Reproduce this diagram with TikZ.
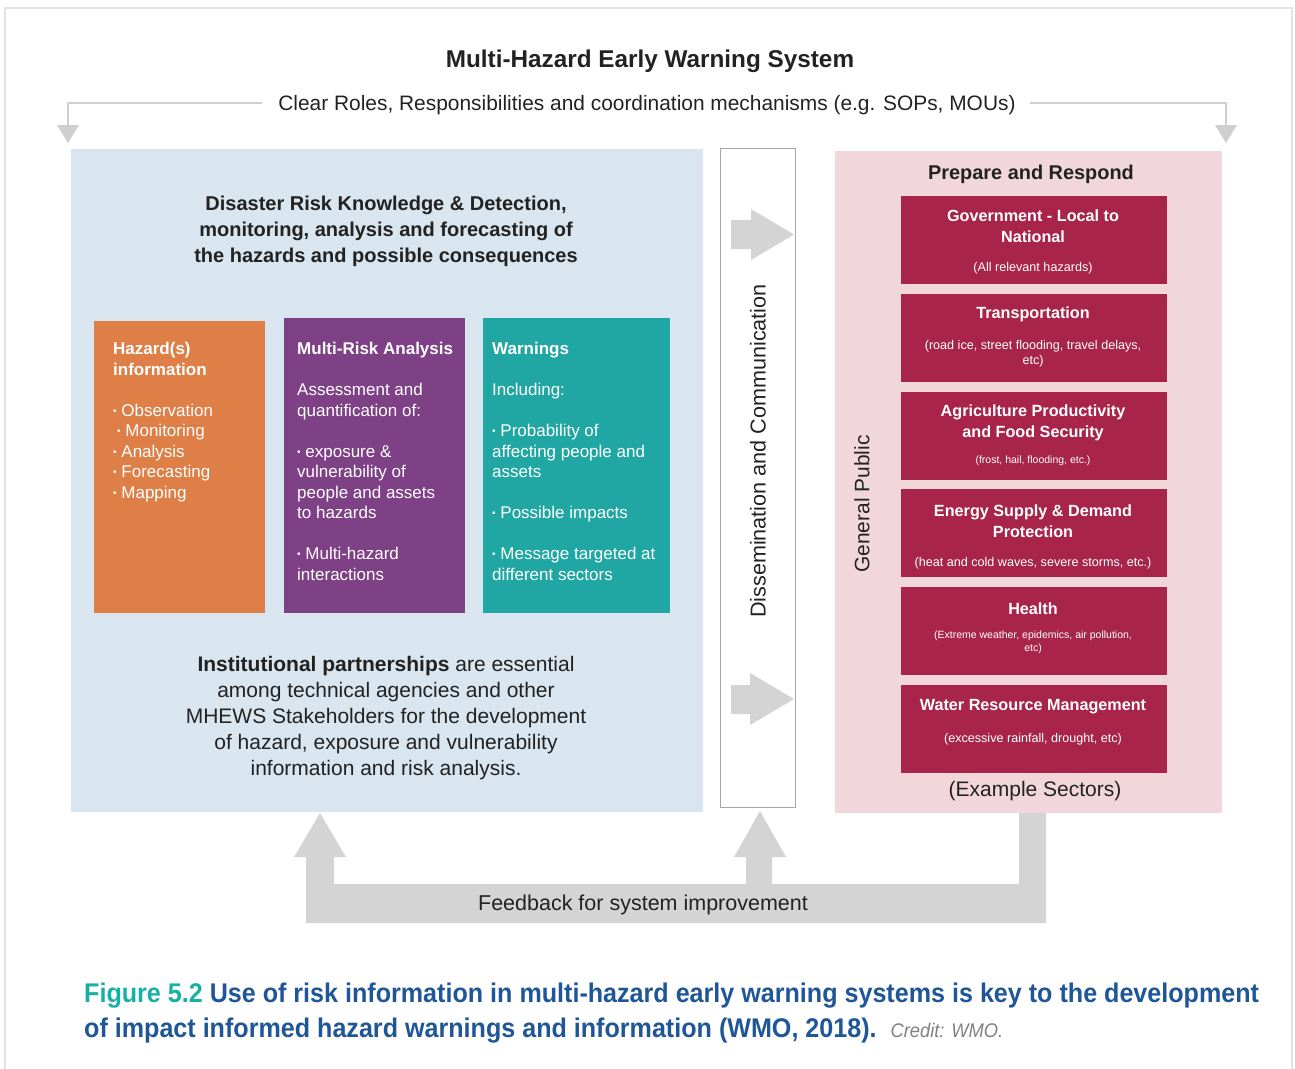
\documentclass[tikz,border=0pt]{standalone}
\usepackage{fontspec}
\setmainfont{Liberation Sans}
\newfontfamily\capfont[FakeStretch=0.93]{Liberation Sans}
\definecolor{frame}{HTML}{E3E3E3}
\definecolor{bluepanel}{HTML}{D9E5EF}
\definecolor{orangebox}{HTML}{DD7F47}
\definecolor{purplebox}{HTML}{7F4186}
\definecolor{tealbox}{HTML}{20A7A3}
\definecolor{pinkpanel}{HTML}{F1D6DB}
\definecolor{redbox}{HTML}{A8244A}
\definecolor{arrowgray}{HTML}{D4D4D4}
\definecolor{linegray}{HTML}{CFCFCF}
\definecolor{txt}{HTML}{222222}
\definecolor{capteal}{HTML}{16B0A6}
\definecolor{capblue}{HTML}{1F5697}
\newcommand{\fs}[2]{\fontsize{#1}{#2}\selectfont}
\newcommand{\bul}{\raisebox{0.18ex}{\fs{10}{10}•}\ }
\begin{document}
\begin{tikzpicture}[x=1pt,y=-1pt,
  panel/.style={draw=none,inner sep=0},
  colbox/.style={inner sep=0, anchor=north west},
  boxtext/.style={text=white, align=left, anchor=north west, inner sep=0, font=\fs{17}{20.5}},
  sectitle/.style={text=white, align=center, inner sep=0, font=\bfseries\fs{16.2}{20.5}},
  secsub/.style={text=white, align=center, inner sep=0},
  dark/.style={text=txt, inner sep=0}]
\useasboundingbox (0,0) rectangle (1295,1068);
\clip (0,0) rectangle (1295,1068);
% outer frame
\draw[frame, line width=1.5pt] (5,8) rectangle (1292,1080);

% title and subtitle
\node[dark, font=\bfseries\fs{24.3}{28}] (title) at (650,61) {Multi-Hazard Early Warning System};
\node[dark, font=\fs{20.9}{24}] (roles) at (647,105) {Clear Roles, Responsibilities and coordination mechanisms (e.g. SOPs, MOUs)};
\coordinate (lt) at (68,143);
\coordinate (rt) at (1226,143);
\draw[linegray, line width=2pt] (262,103) -- (68,103) -- (68,126);
\fill[linegray] (57,125) -- (79,125) -- (lt) -- cycle;
\draw[linegray, line width=2pt] (1030,103) -- (1226,103) -- (1226,126);
\fill[linegray] (1215,125) -- (1237,125) -- (rt) -- cycle;

% left blue panel
\fill[bluepanel] (71,149) rectangle (703,812);
\node[panel, minimum width=632pt, minimum height=663pt, anchor=north west] (left) at (71,149) {};
\node[dark, align=center, font=\bfseries\fs{20}{26}] (lefthead) at (386,231)
  {Disaster Risk Knowledge \& Detection,\\monitoring, analysis and forecasting of\\the hazards and possible consequences};

\node[colbox, fill=orangebox, minimum width=171pt, minimum height=292pt] (hazbox) at (94,321) {};
\node[colbox, fill=purplebox, minimum width=181pt, minimum height=295pt] (riskbox) at (284,318) {};
\node[colbox, fill=tealbox, minimum width=187pt, minimum height=295pt] (warnbox) at (483,318) {};

\node[boxtext] (haztext) at (113,342) {\textbf{Hazard(s)}\\\textbf{information}\\[20.5pt]
  \bul Observation\\\hspace{4pt}\bul Monitoring\\\bul Analysis\\\bul Forecasting\\\bul Mapping};
\node[boxtext] (risktext) at (297,342) {\textbf{Multi-Risk Analysis}\\[20.5pt]
  Assessment and\\quantification of:\\[20.5pt]
  \bul exposure \&\\vulnerability of\\people and assets\\to hazards\\[20.5pt]
  \bul Multi-hazard\\interactions};
\node[boxtext] (warntext) at (492,342) {\textbf{Warnings}\\[20.5pt]
  Including:\\[20.5pt]
  \bul Probability of\\affecting people and\\assets\\[20.5pt]
  \bul Possible impacts\\[20.5pt]
  \bul Message targeted at\\different sectors};

\node[dark, align=center, font=\fs{21}{25.8}] (leftfoot) at (386,718)
  {\textbf{Institutional partnerships} are essential\\among technical agencies and other\\MHEWS Stakeholders for the development\\of hazard, exposure and vulnerability\\information and risk analysis.};

% middle dissemination box
\node[draw=black!35, line width=1pt, fill=white, minimum width=75pt, minimum height=659pt, anchor=north west, inner sep=0] (diss) at (720,148) {};
\node[dark, rotate=90, font=\fs{21.6}{24}] (disstext) at (758,451) {Dissemination and Communication};
\coordinate (tip1) at (794,234.5);
\coordinate (tip2) at (794,699);
\fill[arrowgray] (731,220) -- (751,220) -- (751,209) -- (tip1) -- (751,260) -- (751,249) -- (731,249) -- cycle;
\fill[arrowgray] (731,685) -- (750,685) -- (750,673) -- (tip2) -- (750,725) -- (750,714) -- (731,714) -- cycle;

% right pink panel
\fill[pinkpanel] (835,151) rectangle (1222,813);
\node[panel, minimum width=387pt, minimum height=662pt, anchor=north west] (right) at (835,151) {};
\node[dark, font=\bfseries\fs{19.9}{24}] (prephead) at (1031,174) {Prepare and Respond};
\node[dark, rotate=90, font=\fs{20.9}{24}] (public) at (862,504) {General Public};

\foreach \i/\y in {1/196,2/294,3/392,4/489,5/587,6/685}
  \node[colbox, fill=redbox, minimum width=266pt, minimum height=88pt] (sec\i) at (901,\y) {};

\node[sectitle] (s1t) at (1033,226) {Government - Local to\\National};
\node[secsub, font=\fs{12.6}{14}] (s1s) at (1033,268.5) {(All relevant hazards)};
\node[sectitle] (s2t) at (1033,314) {Transportation};
\node[secsub, font=\fs{12.6}{15}] (s2s) at (1033,354) {(road ice, street flooding, travel delays,\\etc)};
\node[sectitle] (s3t) at (1033,423) {Agriculture Productivity\\and Food Security};
\node[secsub, font=\fs{10.5}{13}] (s3s) at (1033,461) {(frost, hail, flooding, etc.)};
\node[sectitle] (s4t) at (1033,521) {Energy Supply \& Demand\\Protection};
\node[secsub, font=\fs{12.6}{15}] (s4s) at (1033,563) {(heat and cold waves, severe storms, etc.)};
\node[sectitle] (s5t) at (1033,609) {Health};
\node[secsub, font=\fs{10.5}{13}] (s5s) at (1033,642) {(Extreme weather, epidemics, air pollution,\\etc)};
\node[sectitle] (s6t) at (1033,707) {Water Resource Management};
\node[secsub, font=\fs{12.6}{15}] (s6s) at (1033,739) {(excessive rainfall, drought, etc)};
\node[dark, font=\fs{21}{25}] (example) at (1035,791.5) {(Example Sectors)};

% feedback arrow
\coordinate (fbtipL) at (320,813);
\coordinate (fbtipM) at (760,811);
\fill[arrowgray] (306,923) -- (1046,923) -- (1046,813) -- (1019,813) -- (1019,884)
  -- (772,884) -- (772,857) -- (786,857) -- (fbtipM) -- (734,857) -- (746,857) -- (746,884)
  -- (334,884) -- (334,857) -- (346,857) -- (fbtipL) -- (294,857) -- (306,857) -- cycle;
\node[dark, font=\fs{21.5}{24}] (feedback) at (643,904.5) {Feedback for system improvement};

% caption
\node[anchor=west, inner sep=0, align=left, font=\capfont\bfseries\fs{27}{35}, text=capblue] (caption) at (84,1013.5)
  {\textcolor{capteal}{Figure 5.2} Use of risk information in multi-hazard early warning systems is key to the development\\
   of impact informed hazard warnings and information (WMO, 2018).\ \ {\mdseries\itshape\fs{19.7}{20}\textcolor{black!50}{Credit: WMO.}}};
\end{tikzpicture}
\end{document}
